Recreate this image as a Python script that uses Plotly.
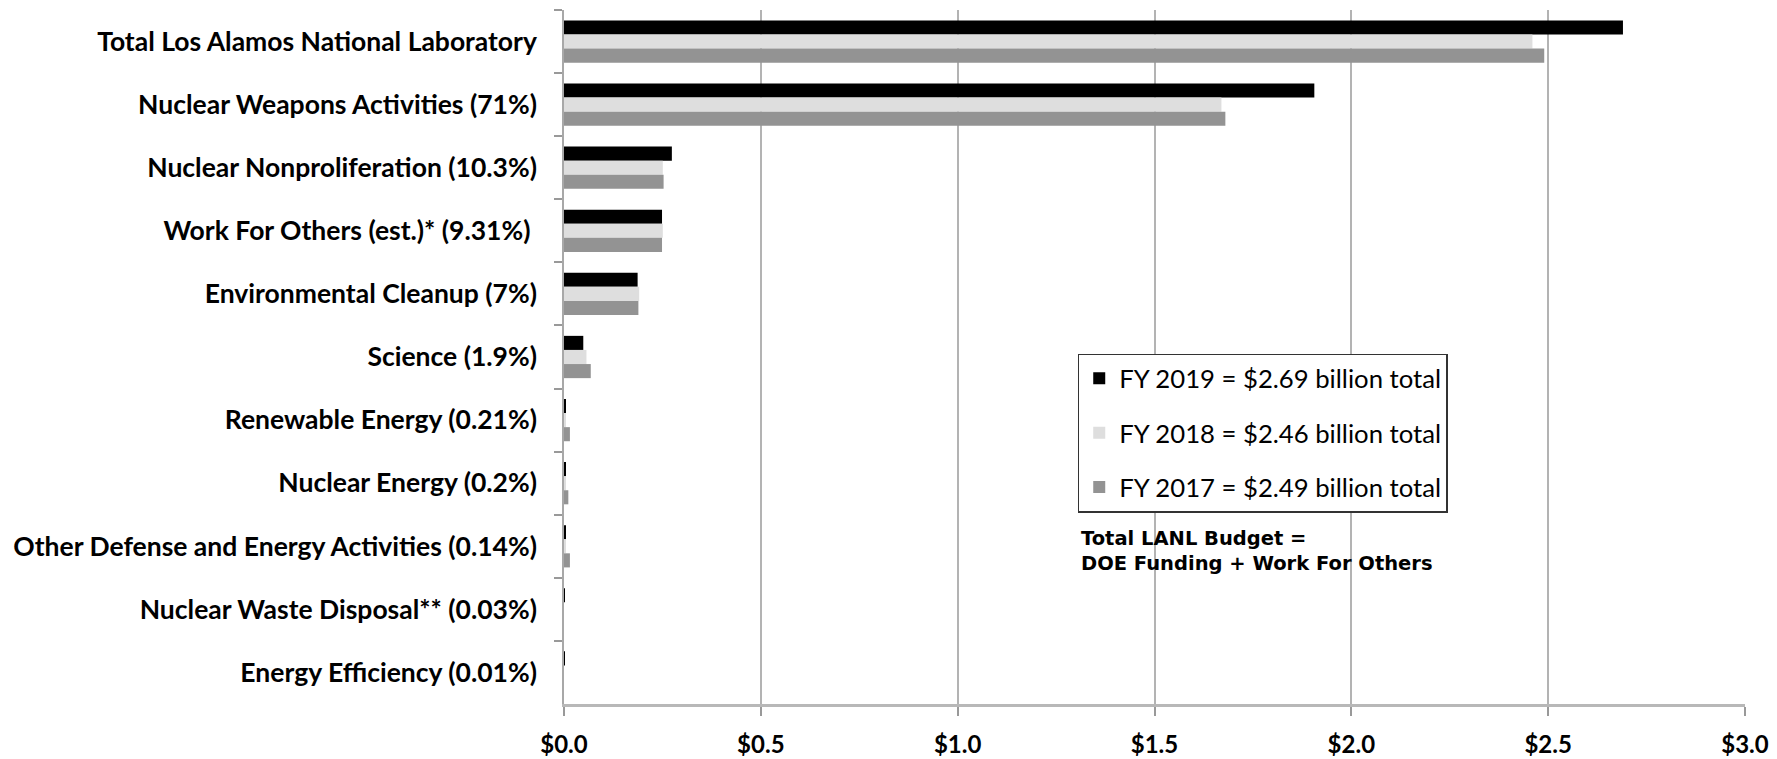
import plotly.graph_objects as go

categories = [
    "Total Los Alamos National Laboratory",
    "Nuclear Weapons Activities (71%)",
    "Nuclear Nonproliferation (10.3%)",
    "Work For Others (est.)* (9.31%)\u00a0",
    "Environmental Cleanup (7%)",
    "Science (1.9%)",
    "Renewable Energy (0.21%)",
    "Nuclear Energy (0.2%)",
    "Other Defense and Energy Activities (0.14%)",
    "Nuclear Waste Disposal** (0.03%)",
    "Energy Efficiency (0.01%)",
]

fy2019 = [2.69, 1.906, 0.274, 0.249, 0.187, 0.049, 0.005, 0.005, 0.004, 0.002, 0.001]
fy2018 = [2.46, 1.670, 0.251, 0.251, 0.191, 0.057, 0.004, 0.003, 0.003, 0.0, 0.0]
fy2017 = [2.49, 1.680, 0.253, 0.249, 0.189, 0.068, 0.015, 0.011, 0.015, 0.0, 0.0]

series_names = [
    "FY 2019 = $2.69 billion total",
    "FY 2018 = $2.46 billion total",
    "FY 2017 = $2.49 billion total",
]
series_colors = ["#000000", "#dedede", "#939393"]

x_tickvals = [0.0, 0.5, 1.0, 1.5, 2.0, 2.5, 3.0]
x_ticktext = ["$0.0", "$0.5", "$1.0", "$1.5", "$2.0", "$2.5", "$3.0"]

note_lines = ["Total LANL Budget =", "DOE Funding + Work For Others"]

fig = go.Figure()
for i, (name, vals, col) in enumerate(zip(series_names, [fy2019, fy2018, fy2017], series_colors)):
    fig.add_trace(go.Bar(
        y=categories, x=vals, name=name, orientation="h",
        marker=dict(color=col, line=dict(width=0)),
        legendgroup=f"g{i}",
    ))

fig.update_layout(
    width=1769, height=751,
    margin=dict(l=556, r=32, t=2, b=55),
    paper_bgcolor="white", plot_bgcolor="white",
    barmode="group", bargap=0.33, bargroupgap=0,
    font=dict(family="Lato", color="#000000"),
    showlegend=True,
    legend=dict(
        x=0.435, y=0.505, xanchor="left", yanchor="top",
        bgcolor="white", bordercolor="#333333", borderwidth=1.5,
        font=dict(family="Lato", size=25.7, color="#000000"),
        traceorder="grouped", tracegroupgap=18,
    ),
    xaxis=dict(
        range=[0, 3.0], tickvals=x_tickvals, ticktext=x_ticktext,
        showgrid=True, gridcolor="#b3b3b3", gridwidth=1.5,
        zeroline=False, automargin=False,
        showline=True, linecolor="#b8b8b8", linewidth=3,
        ticks="outside", ticklen=9, tickcolor="#999999", tickwidth=1.5,
        tickfont=dict(family="Lato", size=24, color="#000000", weight="bold"),
        ticklabelstandoff=8,
    ),
    yaxis=dict(
        autorange="reversed", type="category", automargin=False,
        showgrid=False, zeroline=False,
        showline=True, linecolor="#a8a8a8", linewidth=1.5,
        ticks="outside", tickson="boundaries", ticklen=8, tickcolor="#999999", tickwidth=1.5,
        tickfont=dict(family="Lato", size=26.5, color="#000000", weight="bold"),
        ticklabelstandoff=20,
    ),
)

fig.add_annotation(
    xref="paper", yref="paper", x=0.436, y=0.238, xanchor="left", yanchor="middle",
    text=note_lines[0], showarrow=False,
    font=dict(family="DejaVu Sans", size=19.5, color="#000000", weight="bold"),
)
fig.add_annotation(
    xref="paper", yref="paper", x=0.436, y=0.202, xanchor="left", yanchor="middle",
    text=note_lines[1], showarrow=False,
    font=dict(family="DejaVu Sans", size=19.5, color="#000000", weight="bold"),
)

fig.write_html("out.html")
